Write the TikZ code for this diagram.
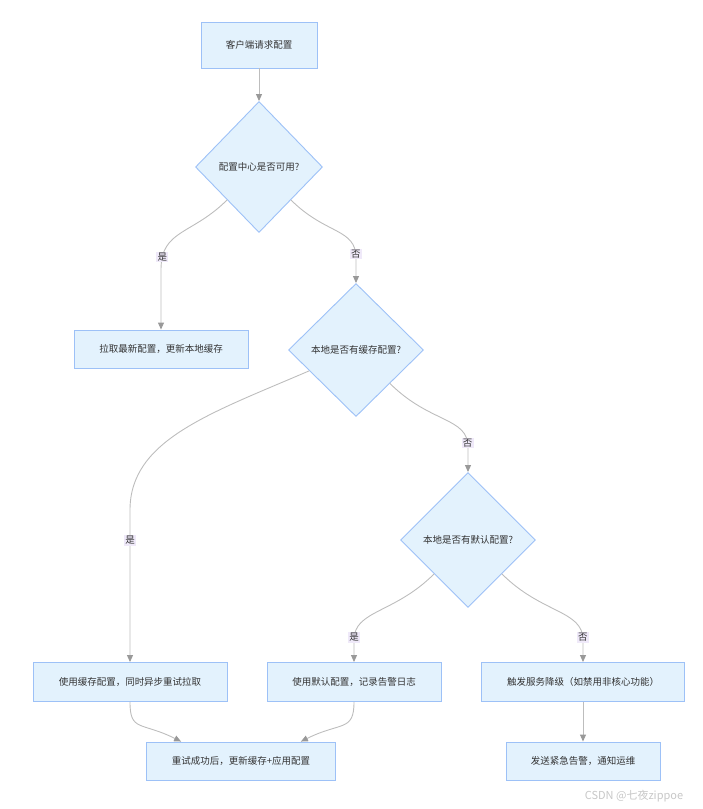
\documentclass[tikz,border=0pt]{standalone}
\usepackage{fontspec}
\setmainfont{Noto Sans CJK SC}
\usepackage{xcolor}
\usepackage{tikz}
\usetikzlibrary{shapes,arrows.meta,positioning,calc}
\definecolor{boxfill}{HTML}{E3F2FD}
\definecolor{boxline}{HTML}{9DC1F7}
\definecolor{edgegray}{HTML}{BDBDBD}
\definecolor{tipgray}{HTML}{999999}
\definecolor{lblfill}{HTML}{EFE9F9}
\definecolor{txt}{HTML}{333333}

\begin{document}
\begin{tikzpicture}[x=1pt, y=-1pt,
    box/.style={draw=boxline, fill=boxfill, rectangle, line width=0.9pt, minimum height=38pt, text=txt, font=\fontsize{9.5}{11}\selectfont},
    decision/.style={draw=boxline, fill=boxfill, diamond, inner sep=0pt, line width=0.9pt, text=txt, font=\fontsize{9.5}{11}\selectfont},
    edge/.style={draw=edgegray, line width=0.9pt, -{Triangle[length=7pt,width=6pt,color=tipgray]}},
    lbl/.style={fill=lblfill, inner sep=1.2pt, text=txt, font=\fontsize{9.5}{11}\selectfont}]
    \useasboundingbox (0,0) rectangle (703,809);

    % nodes
    \node [box, minimum width=116pt, minimum height=46pt] (req) at (259,45) {客户端请求配置};
    \node [decision, minimum width=127pt, minimum height=131pt] (center) at (259,167) {配置中心是否可用?};
    \node [box, minimum width=174pt] (pull) at (161,349) {拉取最新配置，更新本地缓存};
    \node [decision, minimum width=135pt, minimum height=133pt] (cache) at (356,350) {本地是否有缓存配置?};
    \node [decision, minimum width=135pt, minimum height=135pt] (default) at (468,540) {本地是否有默认配置?};
    \node [box, minimum width=194pt, minimum height=39pt] (usecache) at (130,682) {使用缓存配置，同时异步重试拉取};
    \node [box, minimum width=174pt, minimum height=39pt] (usedefault) at (354,682) {使用默认配置，记录告警日志};
    \node [box, minimum width=203pt, minimum height=39pt] (degrade) at (583,682) {触发服务降级（如禁用非核心功能）};
    \node [box, minimum width=189pt] (retry) at (241,761) {重试成功后，更新缓存+应用配置};
    \node [box, minimum width=154pt] (alarm) at (583,761) {发送紧急告警，通知运维};

    % edges
    \draw [edge] (req) -- (center);
    \draw [edge] (center.south west) .. controls +(-35,35) and +(0,-40) .. ($(pull.north)+(0,-60)$) node[lbl, pos=0.88] {是} -- (pull.north);
    \draw [edge] (center.south east) .. controls +(35,35) and +(0,-30) .. ($(cache.north)+(0,-25)$) node[lbl, pos=0.95] {否} -- (cache.north);
    \draw [edge] (cache.south east) .. controls +(40,40) and +(0,-30) .. ($(default.north)+(0,-25)$) node[lbl, pos=0.95] {否} -- (default.north);
    \draw [edge] (cache.204) .. controls +(-100,43) and +(0,-70) .. ($(usecache.north)+(0,-152)$) -- node[lbl, pos=0.2] {是} (usecache.north);
    \draw [edge] (default.south west) .. controls +(-40,40) and +(0,-30) .. ($(usedefault.north)+(0,-22)$) node[lbl, pos=0.97] {是} -- (usedefault.north);
    \draw [edge] (default.south east) .. controls +(40,40) and +(0,-30) .. ($(degrade.north)+(0,-22)$) node[lbl, pos=0.97] {否} -- (degrade.north);
    \draw [edge] (usecache.south) .. controls +(0,30) and +(-40,-20) .. (retry.162);
    \draw [edge] (usedefault.south) .. controls +(0,30) and +(40,-20) .. (retry.18);
    \draw [edge] (degrade) -- (alarm);

    \node [text=black!22, font=\fontsize{11}{13}\selectfont] (mark) at (634,796) {CSDN @七夜zippoe};
\end{tikzpicture}
\end{document}
